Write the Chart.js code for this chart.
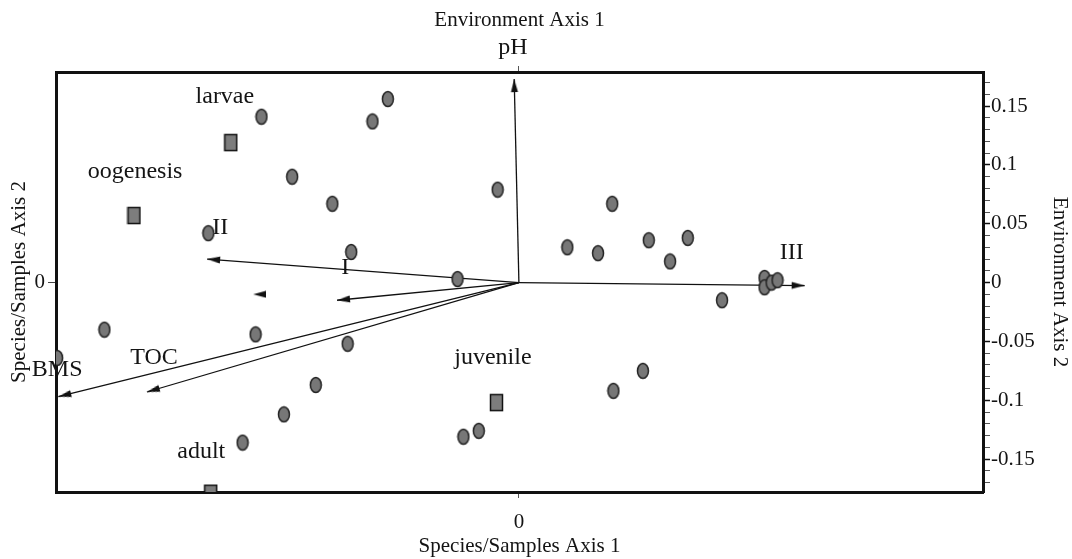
<!DOCTYPE html>
<html lang="en">
<head>
  <meta charset="UTF-8">
  <title>CCA Biplot - Species, Samples and Environment</title>
  <script src="https://cdn.jsdelivr.net/npm/chart.js"></script>
  <style>
    body {
      margin: 0;
      background: #fff;
    }

    #chart-container {
      width: 1072px;
      height: 559px;
    }
  </style>
</head>
<body>
  <div id="chart-container">
    <canvas id="ccaChart"></canvas>
  </div>

  <script>
    // sample scores (grey dots)
    const sampleX = [-0.218, -0.192, -0.158, -0.142, -0.263, -0.111, -0.124, -0.018, -0.052,
                     0.079, 0.041, 0.067, 0.110, 0.128, 0.143, 0.172, 0.208, 0.208, 0.214, 0.219,
                     -0.351, -0.223, -0.145, -0.172, -0.199, -0.234, -0.391, -0.047, -0.034, 0.080, 0.105];
    const sampleY = [0.141, 0.090, 0.067, 0.026, 0.042, 0.156, 0.137, 0.079, 0.003,
                     0.067, 0.030, 0.025, 0.036, 0.018, 0.038, -0.015, 0.004, -0.004, 0.000, 0.002,
                     -0.040, -0.044, -0.052, -0.087, -0.112, -0.136, -0.064, -0.131, -0.126, -0.092, -0.075];

    // species scores (grey squares)
    const speciesNames = ['larvae', 'oogenesis', 'juvenile', 'adult'];
    const speciesX = [-0.244, -0.326, -0.019, -0.261];
    const speciesY = [0.119, 0.057, -0.102, -0.179];

    // environmental variable vectors (arrow tips, origin at 0,0)
    const envNames = ['pH', 'II', 'I', 'BMS', 'TOC', 'III'];
    const envX = [-0.004, -0.264, -0.154, -0.390, -0.315, 0.242];
    const envY = [0.173, 0.020, -0.015, -0.097, -0.093, -0.0025];

    // loose arrowhead left over in the plot
    const strayHeadX = [-0.225];
    const strayHeadY = [-0.010];

    // text labels and where they sit
    const labelText = ['larvae', 'oogenesis', 'II', 'I', 'TOC', 'BMS', 'adult', 'juvenile', 'III', 'pH'];
    const labelX = [-0.249, -0.325, -0.253, -0.147, -0.309, -0.391, -0.269, -0.022, 0.231, -0.005];
    const labelY = [0.158, 0.094, 0.047, 0.013, -0.064, -0.074, -0.144, -0.064, 0.025, 0.200];

    // right axis tick labels
    const envAxis2Ticks = [-0.15, -0.1, -0.05, 0, 0.05, 0.1, 0.15];

    const X_MIN = -0.392, X_MAX = 0.393;
    const Y_MIN = -0.178, Y_MAX = 0.179;

    const serif = '"Liberation Serif", "Times New Roman", serif';
    const ink = '#141414';

    Chart.defaults.font.family = serif;
    Chart.defaults.color = ink;

    function makeMarker(w, h, draw) {
      const c = document.createElement('canvas');
      c.width = w;
      c.height = h;
      draw(c.getContext('2d'), w, h);
      return c;
    }

    const dotImg = makeMarker(14, 18, (g, w, h) => {
      g.beginPath();
      g.ellipse(w / 2, h / 2, 5.5, 7.5, 0, 0, Math.PI * 2);
      g.fillStyle = '#777';
      g.fill();
      g.lineWidth = 1.5;
      g.strokeStyle = '#222';
      g.stroke();
    });

    const squareImg = makeMarker(15, 19, (g) => {
      g.fillStyle = '#7d7d7d';
      g.fillRect(1.5, 1.5, 12, 16);
      g.lineWidth = 1.5;
      g.strokeStyle = '#111';
      g.strokeRect(1.5, 1.5, 12, 16);
    });

    // arrowhead pointing right, tip sits at the image centre
    const headImg = makeMarker(26, 8, (g) => {
      g.beginPath();
      g.moveTo(0, 0.5);
      g.lineTo(13, 4);
      g.lineTo(0, 7.5);
      g.closePath();
      g.fillStyle = '#111';
      g.fill();
    });

    function headAngle(chart, x, y) {
      const sx = chart.scales.x, sy = chart.scales.y;
      const dx = sx.getPixelForValue(x) - sx.getPixelForValue(0);
      const dy = sy.getPixelForValue(y) - sy.getPixelForValue(0);
      return Math.atan2(dy, dx) * 180 / Math.PI;
    }

    const samplePoints = sampleX.map((x, i) => ({ x, y: sampleY[i] }));
    const speciesPoints = speciesX.map((x, i) => ({ x, y: speciesY[i] }));

    const arrowSets = envNames.map((name, i) => ({
      label: name,
      data: [{ x: 0, y: 0 }, { x: envX[i], y: envY[i] }],
      showLine: true,
      borderColor: '#111',
      borderWidth: 1.3,
      pointRadius: c => (c.dataIndex === 1 ? 5 : 0),
      pointStyle: headImg,
      pointRotation: c => headAngle(c.chart, envX[i], envY[i]),
      clip: 0
    }));

    const labelPlugin = {
      id: 'biplotLabels',
      beforeDatasetsDraw(chart) {
        const { ctx, scales } = chart;
        ctx.save();
        ctx.font = '24px ' + serif;
        ctx.fillStyle = ink;
        ctx.textAlign = 'center';
        ctx.textBaseline = 'middle';
        labelText.forEach((t, i) => {
          ctx.fillText(t, scales.x.getPixelForValue(labelX[i]), scales.y.getPixelForValue(labelY[i]));
        });
        ctx.restore();
      }
    };

    const isMajor = v => Math.abs(v * 20 - Math.round(v * 20)) < 1e-6;
    const minorTicks = [];
    for (let k = -17; k <= 17; k++) minorTicks.push(k / 100);

    const border = { display: true, color: '#111', width: 3 };
    const titleFont = { family: serif, size: 21 };
    const tickFont = { family: serif, size: 21 };

    new Chart(document.getElementById('ccaChart'), {
      type: 'scatter',
      data: {
        datasets: [
          {
            label: 'Samples',
            data: samplePoints,
            pointStyle: dotImg,
            pointRadius: 7,
            clip: 0
          },
          {
            label: 'Species',
            data: speciesPoints,
            pointStyle: squareImg,
            pointRadius: 8,
            clip: 0
          },
          ...arrowSets,
          {
            label: 'stray',
            data: strayHeadX.map((x, i) => ({ x, y: strayHeadY[i] })),
            pointStyle: headImg,
            pointRadius: 5,
            pointRotation: 180,
            clip: 0
          }
        ]
      },
      options: {
        responsive: true,
        maintainAspectRatio: false,
        animation: false,
        events: [],
        layout: { padding: 0 },
        plugins: {
          legend: { display: false },
          tooltip: { enabled: false }
        },
        scales: {
          x: {
            type: 'linear',
            position: 'bottom',
            min: X_MIN,
            max: X_MAX,
            afterBuildTicks: s => { s.ticks = [{ value: 0 }]; },
            afterFit: s => { s.height = 67; },
            ticks: { font: tickFont, color: ink, padding: 12, callback: v => String(v) },
            grid: { display: true, drawOnChartArea: false, drawTicks: true, tickLength: 6, tickColor: '#555' },
            border,
            title: { display: true, text: 'Species/Samples Axis 1', font: titleFont, color: ink, padding: { top: 0, bottom: 0 } }
          },
          x2: {
            type: 'linear',
            position: 'top',
            min: X_MIN,
            max: X_MAX,
            afterBuildTicks: s => { s.ticks = [{ value: 0 }]; },
            afterFit: s => { s.height = 72; },
            ticks: { font: tickFont, callback: () => '' },
            grid: { display: true, drawOnChartArea: false, drawTicks: true, tickLength: 6, tickColor: '#555' },
            border,
            title: { display: true, text: 'Environment Axis 1', font: titleFont, color: ink, padding: { top: 8, bottom: 0 } }
          },
          y: {
            type: 'linear',
            position: 'left',
            min: Y_MIN,
            max: Y_MAX,
            afterBuildTicks: s => { s.ticks = [{ value: 0 }]; },
            afterFit: s => { s.width = 56; },
            ticks: { font: tickFont, color: ink, padding: 3, callback: v => String(v) },
            grid: { display: true, drawOnChartArea: false, drawTicks: true, tickLength: 8, tickColor: '#444' },
            border,
            title: { display: true, text: 'Species/Samples Axis 2', font: titleFont, color: ink, padding: { top: 7, bottom: 0 } }
          },
          y2: {
            type: 'linear',
            position: 'right',
            min: Y_MIN,
            max: Y_MAX,
            afterBuildTicks: s => { s.ticks = minorTicks.map(v => ({ value: v })); },
            afterFit: s => { s.width = 89; },
            ticks: {
              font: tickFont,
              color: ink,
              padding: 1,
              autoSkip: false,
              callback: v => {
                if (!isMajor(v)) return '';
                const m = envAxis2Ticks.find(t => Math.abs(t - v) < 1e-6);
                return m === undefined ? '' : String(m);
              }
            },
            grid: {
              display: true,
              drawOnChartArea: false,
              drawTicks: true,
              tickLength: 7,
              tickColor: c => (isMajor(c.tick.value) ? '#111' : '#555'),
              tickWidth: c => (isMajor(c.tick.value) ? 1.5 : 1)
            },
            border,
            title: { display: true, text: 'Environment Axis 2', font: titleFont, color: ink, padding: { top: 0, bottom: 0 } }
          }
        }
      },
      plugins: [labelPlugin]
    });
  </script>
</body>
</html>
